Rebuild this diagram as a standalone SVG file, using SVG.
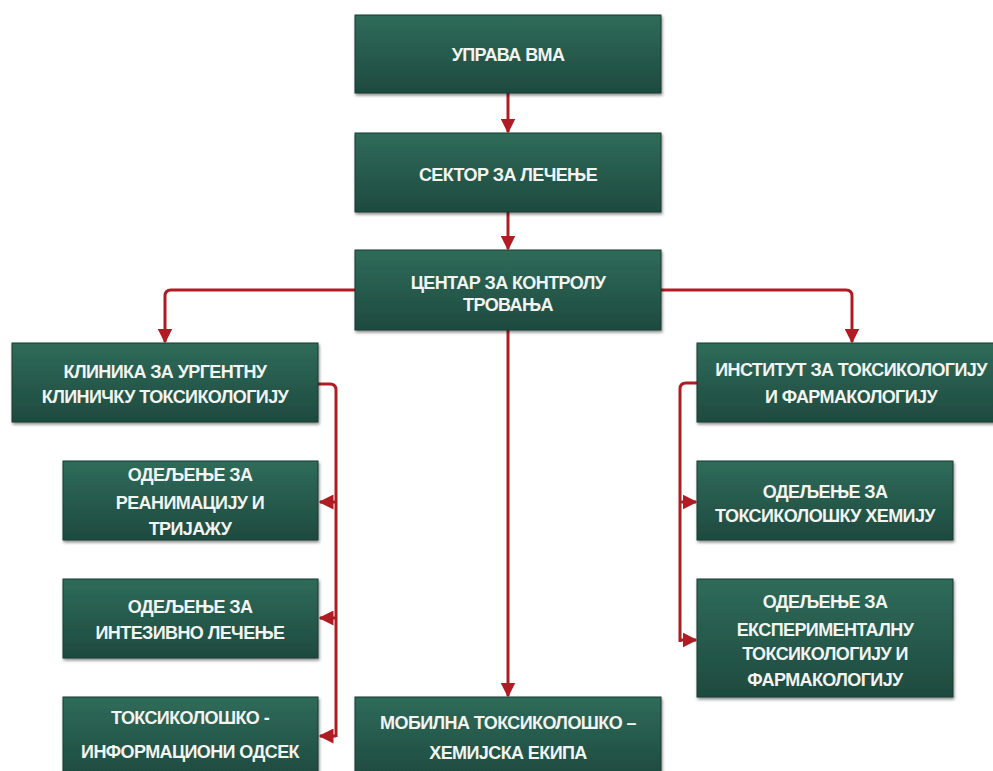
<svg xmlns="http://www.w3.org/2000/svg" width="993" height="771" viewBox="0 0 993 771">
<style>
.box{fill:url(#g);stroke:#1a3a30;stroke-width:1;filter:url(#sh)}
.t{font-family:"Liberation Sans",Arial,sans-serif;font-weight:bold;font-size:18px;fill:#f2f4f2;text-anchor:middle;letter-spacing:-0.6px}
.c{fill:none;stroke:#b01c24;stroke-width:3;stroke-linejoin:round}
</style>
<defs>
<linearGradient id="g" x1="0" y1="0" x2="0" y2="1">
<stop offset="0" stop-color="#2f6b59"/>
<stop offset="1" stop-color="#1e4a3f"/>
</linearGradient>
<filter id="sh" x="-10%" y="-10%" width="120%" height="130%">
<feDropShadow dx="1" dy="2" stdDeviation="1.5" flood-color="#000" flood-opacity="0.45"/>
</filter>
<marker id="a" viewBox="0 0 10 10" refX="9" refY="5" markerWidth="5" markerHeight="5" orient="auto" markerUnits="strokeWidth">
<path d="M0,0 L10,5 L0,10 z" fill="#b01c24"/>
</marker>
</defs>
<rect width="993" height="771" fill="#ffffff"/>
<g id="connectors">
<path class="c" d="M508,93 V132" marker-end="url(#a)"/>
<path class="c" d="M508,212 V249" marker-end="url(#a)"/>
<path class="c" d="M355,290 H171 Q165,290 165,296 V342" marker-end="url(#a)"/>
<path class="c" d="M661,290 H846 Q852,290 852,296 V342" marker-end="url(#a)"/>
<path class="c" d="M508,330 V696" marker-end="url(#a)"/>
<path class="c" d="M318,384 H330 Q336,384 336,390 V737"/>
<path class="c" d="M336,502 H320" marker-end="url(#a)"/>
<path class="c" d="M336,618 H320" marker-end="url(#a)"/>
<path class="c" d="M336,736 H320" marker-end="url(#a)"/>
<path class="c" d="M697,383 H686 Q680,383 680,389 V642"/>
<path class="c" d="M680,502 H696" marker-end="url(#a)"/>
<path class="c" d="M680,640 H696" marker-end="url(#a)"/>
</g>
<g id="uprava"><rect class="box" x="355" y="15" width="306" height="78"/><text class="t" x="508" y="61">УПРАВА ВМА</text></g>
<g id="sektor"><rect class="box" x="355" y="133" width="306" height="79"/><text class="t" x="508" y="181">СЕКТОР ЗА ЛЕЧЕЊЕ</text></g>
<g id="centar"><rect class="box" x="355" y="250" width="306" height="80"/><text class="t" x="508" y="289">ЦЕНТАР ЗА КОНТРОЛУ</text><text class="t" x="508" y="311">ТРОВАЊА</text></g>
<g id="klinika"><rect class="box" x="12" y="343" width="306" height="79"/><text class="t" x="165" y="378">КЛИНИКА ЗА УРГЕНТНУ</text><text class="t" x="165" y="403">КЛИНИЧКУ ТОКСИКОЛОГИЈУ</text></g>
<g id="institut"><rect class="box" x="697" y="343" width="300" height="79"/><text class="t" x="851" y="376">ИНСТИТУТ ЗА ТОКСИКОЛОГИЈУ</text><text class="t" x="851" y="403">И ФАРМАКОЛОГИЈУ</text></g>
<g id="reanimacija"><rect class="box" x="63" y="461" width="255" height="79"/><text class="t" x="190" y="481">ОДЕЉЕЊЕ ЗА</text><text class="t" x="190" y="509">РЕАНИМАЦИЈУ И</text><text class="t" x="190" y="535">ТРИЈАЖУ</text></g>
<g id="intenzivno"><rect class="box" x="63" y="579" width="255" height="79"/><text class="t" x="190" y="613">ОДЕЉЕЊЕ ЗА</text><text class="t" x="190" y="639">ИНТЕЗИВНО ЛЕЧЕЊЕ</text></g>
<g id="informacioni"><rect class="box" x="63" y="697" width="255" height="80"/><text class="t" x="190" y="724">ТОКСИКОЛОШКО -</text><text class="t" x="190" y="758">ИНФОРМАЦИОНИ ОДСЕК</text></g>
<g id="mobilna"><rect class="box" x="355" y="697" width="306" height="80"/><text class="t" x="508" y="729">МОБИЛНА ТОКСИКОЛОШКО –</text><text class="t" x="508" y="759">ХЕМИЈСКА ЕКИПА</text></g>
<g id="hemija"><rect class="box" x="697" y="461" width="256" height="79"/><text class="t" x="825" y="498">ОДЕЉЕЊЕ ЗА</text><text class="t" x="825" y="522">ТОКСИКОЛОШКУ ХЕМИЈУ</text></g>
<g id="eksperimentalna"><rect class="box" x="697" y="579" width="256" height="118"/><text class="t" x="825" y="608">ОДЕЉЕЊЕ ЗА</text><text class="t" x="825" y="636">ЕКСПЕРИМЕНТАЛНУ</text><text class="t" x="825" y="660">ТОКСИКОЛОГИЈУ И</text><text class="t" x="825" y="686">ФАРМАКОЛОГИЈУ</text></g>
</svg>
